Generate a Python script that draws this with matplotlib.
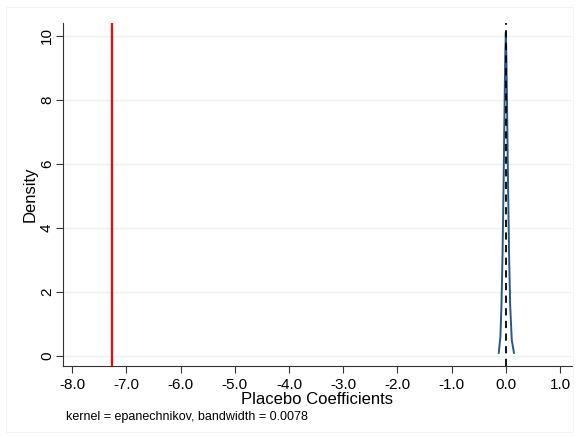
import matplotlib
matplotlib.use("Agg")
import matplotlib.pyplot as plt
from matplotlib.patches import Rectangle

plt.rcParams['font.family'] = ['Liberation Sans', 'DejaVu Sans']

# kernel density of placebo coefficients
dens_x = [-0.13, -0.10, -0.08, -0.06, -0.04, -0.02, -0.01, 0.0, 0.01, 0.02, 0.04, 0.06, 0.08, 0.11, 0.15]
dens_y = [0.1, 0.6, 1.6, 3.2, 5.5, 8.2, 9.4, 10.1, 9.4, 8.2, 5.5, 3.2, 1.6, 0.5, 0.1]
true_effect = -7.26
xticks = [-8.0, -7.0, -6.0, -5.0, -4.0, -3.0, -2.0, -1.0, 0.0, 1.0]
yticks = [0, 2, 4, 6, 8, 10]

fig = plt.figure(figsize=(5.79, 4.37), dpi=100)
ax = fig.add_axes([0.1088, 0.1625, 0.879, 0.785])

for t in yticks:
    ax.axhline(t, color='#eaf2f3', lw=1.0, zorder=0)

ax.plot(dens_x, dens_y, color='#2a5783', lw=1.4, zorder=2)
ax.axvline(0, color='black', ls=(0, (4, 3)), lw=1.3, zorder=3)
ax.axvline(true_effect, color='red', lw=1.6, zorder=3)

ax.set_xlim(-8.17, 1.22)
ax.set_ylim(-0.31, 10.4)
ax.set_xticks(xticks)
ax.set_xticklabels([f"{v:.1f}" for v in xticks])
ax.set_yticks(yticks)
ax.set_yticklabels([str(v) for v in yticks], rotation=90, va='center')
ax.tick_params(labelsize=11, length=5, width=0.8, color='#333333')
ax.tick_params(axis='y', pad=1.5)
ax.spines['top'].set_visible(False)
ax.spines['right'].set_visible(False)
ax.spines['left'].set_color('#333333')
ax.spines['bottom'].set_color('#333333')
ax.set_xlabel("Placebo Coefficients", fontsize=12, labelpad=0)
ax.set_ylabel("Density", fontsize=12, labelpad=2)

fig.text(66 / 579, 1 - 417 / 437, "kernel = epanechnikov, bandwidth = 0.0078",
         fontsize=9, va='center', ha='left')

fig.patches.append(Rectangle((6 / 579, 5 / 437), 567 / 579, 425 / 437,
                             transform=fig.transFigure, fill=False,
                             edgecolor='#f4f4f4', lw=0.8))

fig.savefig("out.png", dpi=100)
